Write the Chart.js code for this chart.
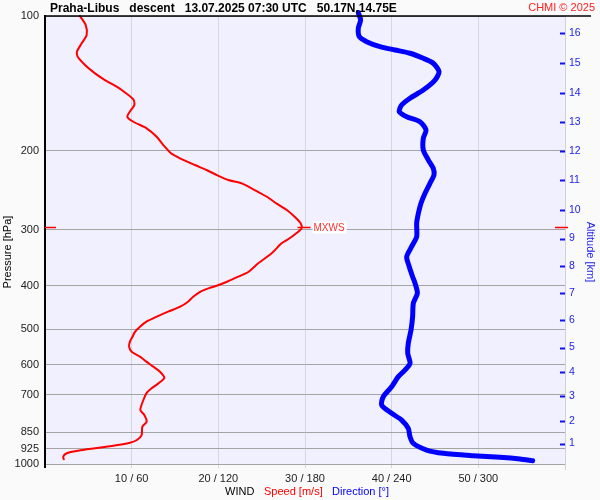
<!DOCTYPE html>
<html><head><meta charset="utf-8">
<style>html,body{margin:0;padding:0;background:#fafafa;overflow:hidden}#wrap{width:600px;height:500px;position:relative}</style>
<script src="https://cdn.jsdelivr.net/npm/chart.js@4"></script>
</head><body><div id="wrap"><canvas id="c" width="600" height="500"></canvas></div>
<script>
const FONT = 'Arial, "Liberation Sans", sans-serif';

// Axis ticks
const pressureTicks = [100, 200, 300, 400, 500, 600, 700, 850, 925, 1000];
const speedTicks = [0, 10, 20, 30, 40, 50, 60];
const altitudeKm = [16, 15, 14, 13, 12, 11, 10, 9, 8, 7, 6, 5, 4, 3, 2, 1];
const altitudePressure = [109.4, 127.3, 148.5, 172.5, 200.2, 232.3, 271.0, 313.8, 361.4, 415.3, 477.1, 549.5, 623.2, 705.0, 801.7, 900.0];

// Wind speed profile (m/s) vs pressure (hPa)
const speedPressure = [99.6, 104.7, 110.3, 115.1, 120.1, 123.3, 128.6, 134.3, 139.0, 143.8, 147.6, 153.5, 158.0, 162.1, 167.8, 172.2, 178.1, 186.0, 194.1, 202.5, 207.8, 215.1, 220.7, 226.4, 232.3, 236.3, 244.6, 253.2, 261.9, 271.0, 280.5, 290.2, 297.8, 305.5, 314.6, 321.7, 338.6, 356.5, 372.2, 381.9, 391.9, 400.0, 405.4, 412.6, 423.3, 434.3, 445.6, 457.1, 469.0, 481.3, 493.8, 506.6, 519.8, 533.3, 547.2, 561.4, 576.0, 591.0, 606.4, 622.3, 642.0, 660.7, 677.8, 695.5, 719.8, 757.7, 777.4, 804.7, 825.6, 861.7, 884.1, 896.4, 911.8, 922.6, 934.0, 946.5, 963.2, 979.7];
const speedValues = [3.96, 4.69, 4.81, 4.23, 3.69, 3.77, 4.62, 5.77, 6.92, 8.27, 9.12, 10.19, 10.31, 9.92, 9.5, 10.19, 11.73, 12.88, 13.65, 14.54, 15.58, 17.3, 18.65, 19.8, 21.15, 22.7, 24.2, 25.6, 26.7, 27.9, 28.8, 29.5, 29.6, 29.0, 28.1, 27.3, 26.15, 24.6, 23.5, 22.3, 21.0, 19.8, 18.85, 17.9, 17.1, 16.5, 15.6, 14.2, 12.9, 11.7, 10.96, 10.4, 10.1, 9.8, 9.7, 10.0, 10.96, 11.7, 12.5, 13.27, 13.77, 13.08, 12.3, 11.7, 11.35, 11.0, 11.46, 11.73, 11.23, 11.15, 10.6, 9.8, 7.7, 5.77, 3.85, 2.5, 2.1, 2.2];

// Wind direction profile (deg) vs pressure (hPa)
const dirPressure = [98.3, 102.1, 106.5, 111.2, 114.1, 117.1, 119.1, 121.1, 124.3, 127.5, 133.2, 139.0, 146.3, 152.6, 158.0, 163.6, 167.8, 172.2, 179.7, 187.5, 199.1, 209.7, 218.8, 226.4, 236.3, 248.8, 261.9, 275.7, 290.2, 311.0, 327.3, 344.6, 362.8, 381.9, 395.2, 415.9, 437.8, 469.0, 502.1, 537.8, 566.1, 596.0, 617.0, 638.4, 672.2, 707.6, 738.5, 770.7, 797.7, 832.3, 869.0, 899.4, 930.7, 946.5, 958.3, 966.1, 974.5, 983.1];
const dirValues = [216.9, 218.5, 216.9, 217.6, 222.7, 231.9, 242.3, 252.7, 261.9, 268.8, 272.8, 270.0, 261.9, 252.7, 246.9, 245.3, 250.4, 259.6, 263.8, 261.9, 261.9, 265.4, 268.8, 269.3, 266.5, 263.1, 260.3, 258.5, 257.3, 257.3, 253.8, 250.4, 252.2, 254.5, 256.2, 257.8, 255.0, 254.5, 253.4, 251.5, 251.1, 252.7, 249.2, 244.6, 240.0, 234.2, 233.1, 240.0, 246.9, 251.5, 252.7, 255.0, 264.2, 275.8, 296.5, 315.0, 328.8, 337.6];

// Maximum wind
const mxwsPressure = 297.8;
const mxwsSpeed = 29.6;

const speedData = speedPressure.map((p, i) => ({x: speedValues[i], y: p}));
const dirData = dirPressure.map((p, i) => ({x: dirValues[i], y: p}));

const decor = {
  id: 'decor',
  beforeDraw(chart) {
    const {ctx, chartArea: a} = chart;
    ctx.save();
    ctx.fillStyle = '#f0f0ff';
    ctx.fillRect(a.left, a.top, a.right - a.left, a.bottom - a.top);
    ctx.restore();
  },
  afterDraw(chart) {
    const {ctx, chartArea: a, scales} = chart;
    ctx.save();
    // frame extensions
    ctx.strokeStyle = '#000';
    ctx.lineWidth = 2;
    ctx.beginPath(); ctx.moveTo(a.left, a.bottom); ctx.lineTo(a.left, a.bottom + 4); ctx.stroke();
    ctx.strokeStyle = '#d0d0d8';
    ctx.lineWidth = 1;
    ctx.beginPath(); ctx.moveTo(a.right + 0.5, a.bottom); ctx.lineTo(a.right + 0.5, a.bottom + 6); ctx.stroke();
    // top frame line
    ctx.strokeStyle = '#000';
    ctx.lineWidth = 1.5;
    ctx.beginPath(); ctx.moveTo(a.left - 1, a.top); ctx.lineTo(591, a.top); ctx.stroke();
    // title
    ctx.fillStyle = '#000';
    ctx.font = 'bold 12px ' + FONT;
    ctx.textAlign = 'left'; ctx.textBaseline = 'alphabetic';
    ctx.fillText('Praha-Libus   descent   13.07.2025 07:30 UTC   50.17N,14.75E', 50, 12);
    ctx.fillStyle = '#ff2020';
    ctx.font = '11px ' + FONT;
    ctx.textAlign = 'right';
    ctx.fillText('CHMI \u00a9 2025', 595, 11);
    // axis titles
    ctx.font = '11px ' + FONT;
    ctx.textAlign = 'center'; ctx.textBaseline = 'middle';
    ctx.fillStyle = '#000';
    ctx.save(); ctx.translate(8, 252); ctx.rotate(-Math.PI / 2); ctx.fillText('Pressure [hPa]', 0, 0); ctx.restore();
    ctx.fillStyle = '#1c1cf0';
    ctx.save(); ctx.translate(590, 252); ctx.rotate(Math.PI / 2); ctx.fillText('Altitude [km]', 0, 0); ctx.restore();
    // right altitude tick marks (inside)
    ctx.strokeStyle = '#1010f0';
    ctx.lineWidth = 2;
    altitudePressure.forEach(p => {
      const y = Math.round(scales.y2.getPixelForValue(p)) + 0.5;
      ctx.beginPath(); ctx.moveTo(a.right - 5, y); ctx.lineTo(a.right, y); ctx.stroke();
    });
    // MXWS markers
    const my = Math.round(scales.y.getPixelForValue(mxwsPressure)) - 0.5;
    const mx = scales.x.getPixelForValue(mxwsSpeed);
    ctx.strokeStyle = '#ff0000';
    ctx.lineWidth = 1.5;
    ctx.beginPath();
    ctx.moveTo(a.left, my); ctx.lineTo(a.left + 11, my);
    ctx.moveTo(a.right - 10, my); ctx.lineTo(a.right + 3, my);
    ctx.moveTo(mx - 4, my); ctx.lineTo(mx + 9, my);
    ctx.stroke();
    ctx.font = '10px ' + FONT;
    const tw = ctx.measureText('MXWS').width;
    ctx.fillStyle = '#ffffff';
    ctx.fillRect(mx + 11, my - 6, tw + 3, 12);
    ctx.fillStyle = '#ff3030';
    ctx.textAlign = 'left'; ctx.textBaseline = 'middle';
    ctx.fillText('MXWS', mx + 12, my + 0.5);
    // bottom legend
    ctx.font = '11px ' + FONT;
    ctx.textBaseline = 'alphabetic';
    ctx.fillStyle = '#000'; ctx.fillText('WIND', 225, 495);
    ctx.fillStyle = '#ff0000'; ctx.fillText('Speed [m/s]', 264, 495);
    ctx.fillStyle = '#0000ff'; ctx.fillText('Direction [\u00b0]', 332, 495);
    ctx.restore();
  }
};

new Chart(document.getElementById('c'), {
  type: 'line',
  data: {
    datasets: [
      {label: 'Direction', data: dirData, xAxisID: 'x2', yAxisID: 'y', borderColor: '#0000ff', borderWidth: 5,
       pointRadius: 0, tension: 0.25, clip: false, borderCapStyle: 'round', borderJoinStyle: 'round', fill: false},
      {label: 'Speed', data: speedData, xAxisID: 'x', yAxisID: 'y', borderColor: '#ff0000', borderWidth: 2,
       pointRadius: 0, tension: 0.25, clip: false, borderJoinStyle: 'round', fill: false}
    ]
  },
  options: {
    responsive: false,
    animation: false,
    devicePixelRatio: 1,
    layout: {padding: {top: 16, left: 0, right: 0, bottom: 0}},
    plugins: {legend: {display: false}, tooltip: {enabled: false}, title: {display: false}},
    scales: {
      x: {
        type: 'linear', position: 'bottom', min: 0, max: 60,
        afterBuildTicks: s => { s.ticks = speedTicks.map(v => ({value: v})); },
        afterFit: s => { s.height = 36; },
        ticks: {autoSkip: false, maxRotation: 0, padding: 4, color: '#222', font: {family: FONT, size: 11},
                callback: v => (v > 0 && v < 60) ? v + ' / ' + (v * 6) : ''},
        grid: {color: '#d6d6de', lineWidth: 1, drawTicks: true, tickLength: 4},
        border: {display: false}
      },
      x2: {type: 'linear', min: 0, max: 360, display: false},
      y: {
        type: 'logarithmic', position: 'left', min: 100, max: 1000, reverse: true,
        afterBuildTicks: s => { s.ticks = pressureTicks.map(v => ({value: v})); },
        afterFit: s => { s.width = 45; },
        ticks: {autoSkip: false, padding: 6, color: '#222', font: {family: FONT, size: 11}, callback: v => String(v)},
        grid: {color: '#a4a4a4', lineWidth: 1, drawTicks: false},
        border: {display: true, color: '#000', width: 2}
      },
      y2: {
        type: 'logarithmic', position: 'right', min: 100, max: 1000, reverse: true,
        afterBuildTicks: s => { s.ticks = altitudePressure.map(v => ({value: v})); },
        afterFit: s => { s.width = 35; },
        ticks: {autoSkip: false, padding: 4, color: '#1c1cf0', font: {family: FONT, size: 10.5},
                callback: (v, i) => String(altitudeKm[i])},
        grid: {display: true, drawOnChartArea: false, drawTicks: false},
        border: {display: true, color: '#d0d0d8', width: 1}
      }
    }
  },
  plugins: [decor]
});
</script>
</body></html>
